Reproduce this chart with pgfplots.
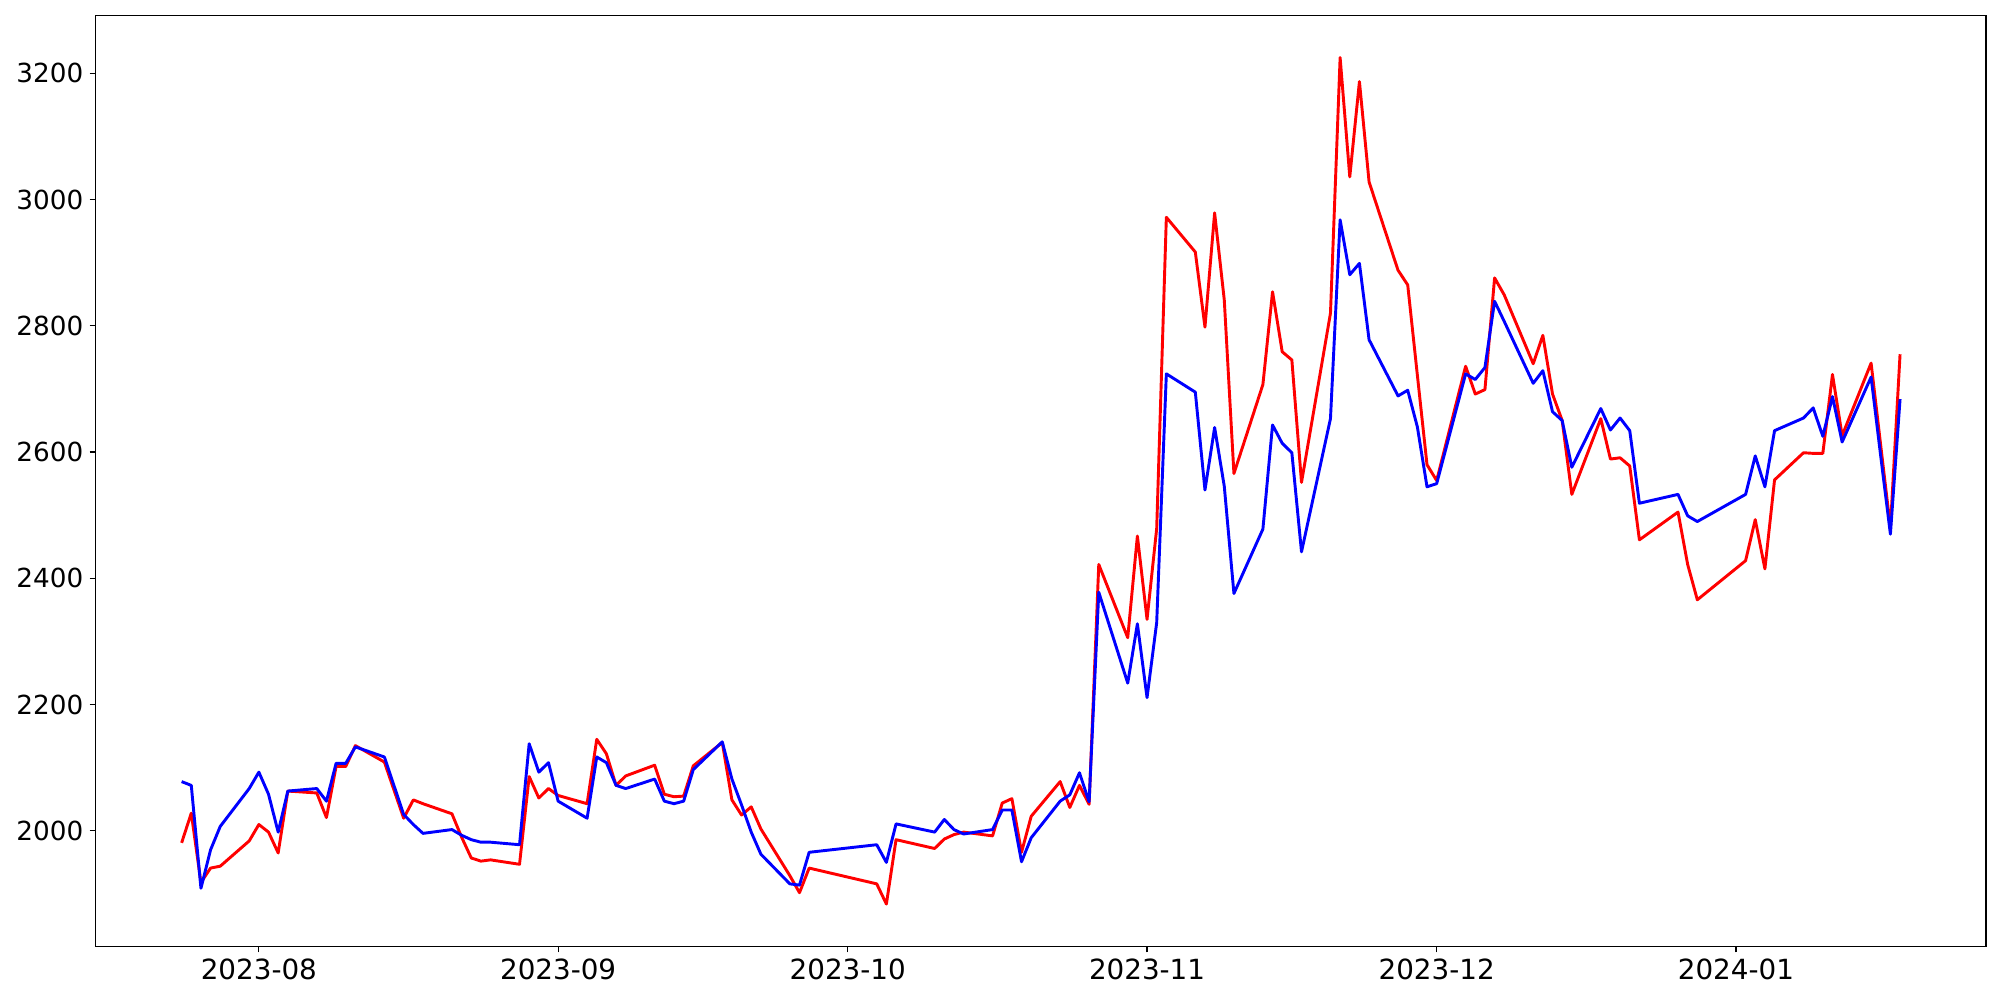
\documentclass[border=0pt]{standalone}
\usepackage{fontspec}
\setmainfont{DejaVu Sans}
\usepackage{pgfplots}
\usepackage{pgfplotstable}
\pgfplotsset{compat=1.18}
\usepgfplotslibrary{dateplot}

% trading days, two price series
\pgfplotstableread{
date red blue
2023-07-24 1981 2078
2023-07-25 2028 2072
2023-07-26 1918 1909
2023-07-27 1941 1970
2023-07-28 1944 2007
2023-07-31 1984 2067
2023-08-01 2010 2093
2023-08-02 1998 2058
2023-08-03 1965 1998
2023-08-04 2063 2063
2023-08-07 2060 2067
2023-08-08 2021 2047
2023-08-09 2102 2107
2023-08-10 2102 2107
2023-08-11 2135 2133
2023-08-14 2109 2117
2023-08-16 2020 2026
2023-08-17 2049 2010
2023-08-18 2043 1996
2023-08-21 2027 2002
2023-08-22 1990 1993
2023-08-23 1957 1986
2023-08-24 1952 1982
2023-08-25 1954 1982
2023-08-28 1947 1978
2023-08-29 2086 2138
2023-08-30 2052 2093
2023-08-31 2067 2108
2023-09-01 2056 2047
2023-09-04 2043 2020
2023-09-05 2145 2117
2023-09-06 2122 2108
2023-09-07 2072 2072
2023-09-08 2087 2067
2023-09-11 2104 2082
2023-09-12 2058 2047
2023-09-13 2054 2043
2023-09-14 2055 2047
2023-09-15 2103 2097
2023-09-18 2140 2141
2023-09-19 2049 2082
2023-09-20 2025 2041
2023-09-21 2038 1998
2023-09-22 2003 1963
2023-09-25 1929 1916
2023-09-26 1902 1914
2023-09-27 1941 1966
2023-10-04 1916 1978
2023-10-05 1884 1950
2023-10-06 1986 2011
2023-10-10 1972 1998
2023-10-11 1987 2018
2023-10-12 1994 2002
2023-10-13 1998 1995
2023-10-16 1992 2002
2023-10-17 2044 2033
2023-10-18 2051 2033
2023-10-19 1966 1951
2023-10-20 2023 1989
2023-10-23 2078 2047
2023-10-24 2037 2057
2023-10-25 2072 2092
2023-10-26 2042 2046
2023-10-27 2422 2378
2023-10-30 2306 2234
2023-10-31 2467 2328
2023-11-01 2335 2211
2023-11-02 2479 2330
2023-11-03 2972 2724
2023-11-06 2917 2695
2023-11-07 2798 2540
2023-11-08 2979 2639
2023-11-09 2841 2546
2023-11-10 2566 2376
2023-11-13 2707 2478
2023-11-14 2854 2643
2023-11-15 2759 2614
2023-11-16 2746 2599
2023-11-17 2552 2442
2023-11-20 2820 2653
2023-11-21 3225 2968
2023-11-22 3036 2881
2023-11-23 3187 2899
2023-11-24 3028 2778
2023-11-27 2888 2689
2023-11-28 2865 2698
2023-11-29 2722 2640
2023-11-30 2580 2545
2023-12-01 2555 2550
2023-12-04 2736 2724
2023-12-05 2692 2715
2023-12-06 2699 2734
2023-12-07 2876 2839
2023-12-08 2849 2807
2023-12-11 2740 2709
2023-12-12 2785 2729
2023-12-13 2692 2664
2023-12-14 2650 2650
2023-12-15 2533 2576
2023-12-18 2653 2669
2023-12-19 2589 2635
2023-12-20 2591 2654
2023-12-21 2578 2634
2023-12-22 2461 2519
2023-12-26 2505 2533
2023-12-27 2422 2499
2023-12-28 2366 2490
2024-01-02 2428 2533
2024-01-03 2493 2594
2024-01-04 2415 2545
2024-01-05 2556 2634
2024-01-08 2599 2654
2024-01-09 2598 2670
2024-01-10 2598 2625
2024-01-11 2723 2688
2024-01-12 2626 2616
2024-01-15 2741 2719
2024-01-16 2610 2593
2024-01-17 2480 2470
2024-01-18 2755 2684
}\prices

\begin{document}
\begin{tikzpicture}
\begin{axis}[
    scale only axis,
    width=1360.8pt, height=670.3pt,
    date coordinates in=x,
    enlarge x limits=0.05,
    enlarge y limits=0.05,
    xtick={2023-08-01,2023-09-01,2023-10-01,2023-11-01,2023-12-01,2024-01-01},
    xticklabel=\year-\month,
    ytick={2000,2200,2400,2600,2800,3000,3200},
    /pgf/number format/assume math mode=true,
    /pgf/number format/1000 sep={},
    tick align=outside,
    major tick length=4.4pt,
    tick pos=left,
    axis line style={line width=0.9pt},
    every tick/.style={black, line width=0.9pt},
    yticklabel style={font=\fontsize{18.9}{22}\selectfont, xshift=-1pt},
    xticklabel style={font=\fontsize{20}{24}\selectfont, yshift=-1pt},
]
\addplot[red, line width=2.1pt, line join=round, no markers] table[x=date, y=red] {\prices};
\addplot[blue, line width=2.1pt, line join=round, no markers] table[x=date, y=blue] {\prices};
\end{axis}
\pgfresetboundingbox
\path[use as bounding box] (current axis.south west) ++(-68.9pt,-38.5pt) rectangle ([xshift=10.1pt,yshift=11pt]current axis.north east);
\end{tikzpicture}
\end{document}
